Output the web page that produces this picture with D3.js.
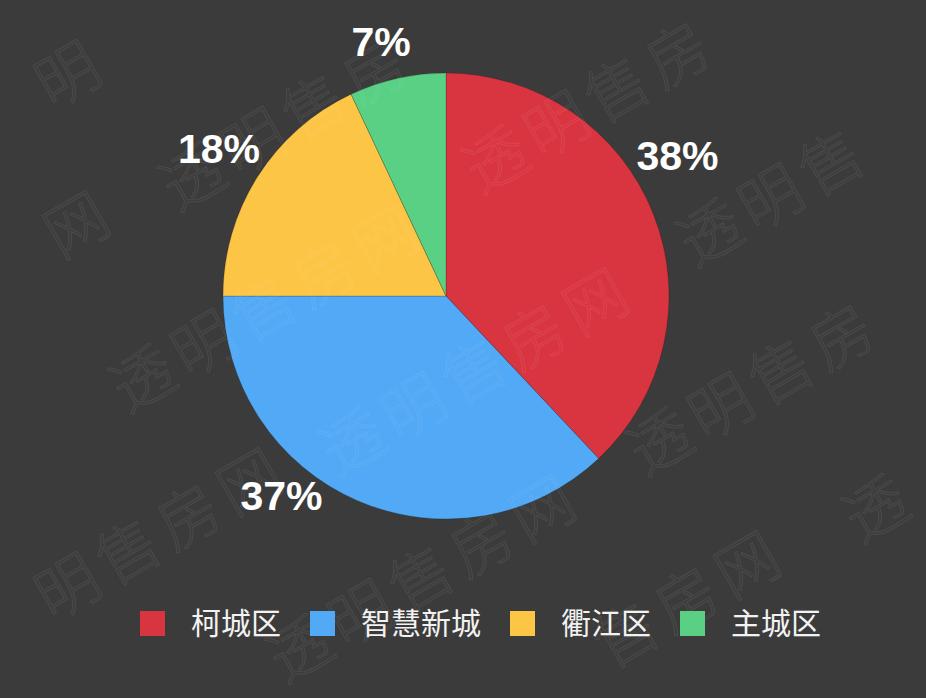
<!DOCTYPE html>
<html>
<head>
<meta charset="utf-8">
<script src="https://cdn.jsdelivr.net/npm/d3@7"></script>
<style>
  html, body { margin: 0; padding: 0; background: #3c3b3b; }
  svg { display: block; }
</style>
</head>
<body>
<svg id="chart" width="926" height="698"></svg>
<script>
// ---- data ----
const categories = ["柯城区", "智慧新城", "衢江区", "主城区"];
const values = [38, 37, 18, 7];
const colors = ["#d93540", "#52a9f5", "#fdc545", "#59d084"];
const watermarkText = "透明售房网";

// ---- layout ----
const W = 926, H = 698;
const cx = 446, cy = 296, R = 223;
// label placement: angle nudge (deg) and radius per slice
const labelAngleNudge = [-9.7, 16.2, 0.7, -1.7];
const labelRadius = [271, 258, 271, 263];

const svg = d3.select("#chart");
svg.append("rect").attr("width", W).attr("height", H).attr("fill", "#3c3b3b");

const data = categories.map((c, i) => ({ name: c, value: values[i], color: colors[i], i }));

const pie = d3.pie().sort(null).value(d => d.value);
const arc = d3.arc().innerRadius(0).outerRadius(R);
const arcs = pie(data);

const g = svg.append("g").attr("transform", `translate(${cx},${cy})`);
g.selectAll("path.slice")
  .data(arcs)
  .join("path")
  .attr("class", "slice")
  .attr("d", arc)
  .attr("fill", d => d.data.color)
  .attr("stroke", "rgba(0,0,0,0.22)")
  .attr("stroke-width", 0.8);

// faint watermark overlay (per character, only glyphs fully inside the canvas)
const wmAnchors = [
  [7,110],[193,177],[496,160],[710,233],
  [-166,365],[143,379],[353,442],[660,442],[876,509],
  [7,622],[300,649],[505,705],[792,690]
];
const wmStep = 70, wmAng = -30 * Math.PI / 180, wmFs = 62, wmHalf = 44;
const wm = svg.append("g").attr("pointer-events", "none");
wmAnchors.forEach(([ax, ay]) => {
  Array.from(watermarkText).forEach((ch, k) => {
    const px = ax + k * wmStep * Math.cos(wmAng);
    const py = ay + k * wmStep * Math.sin(wmAng);
    if (px < wmHalf || px > W - wmHalf || py < wmHalf || py > H - wmHalf) return;
    wm.append("text")
      .attr("transform", `translate(${px},${py}) rotate(-30)`)
      .attr("text-anchor", "middle")
      .attr("dy", "0.36em")
      .attr("font-family", "'Noto Sans CJK SC', sans-serif")
      .attr("font-weight", 300)
      .attr("font-size", wmFs)
      .attr("fill", "rgba(255,255,255,0.02)")
      .attr("stroke", "rgba(255,255,255,0.08)")
      .attr("stroke-width", 0.8)
      .text(ch);
  });
});

// percentage labels
const fmt = d3.format(".0%");
const total = d3.sum(values);
g.selectAll("text.pct")
  .data(arcs)
  .join("text")
  .attr("class", "pct")
  .attr("x", d => {
    const a = (d.startAngle + d.endAngle) / 2 + labelAngleNudge[d.index] * Math.PI / 180;
    return labelRadius[d.index] * Math.sin(a);
  })
  .attr("y", d => {
    const a = (d.startAngle + d.endAngle) / 2 + labelAngleNudge[d.index] * Math.PI / 180;
    return -labelRadius[d.index] * Math.cos(a);
  })
  .attr("dy", "0.36em")
  .attr("text-anchor", "middle")
  .attr("fill", "#ffffff")
  .attr("font-family", "'Liberation Sans', Arial, sans-serif")
  .attr("font-weight", "bold")
  .attr("font-size", 41)
  .text(d => fmt(d.data.value / total));

// legend
const legend = svg.append("g").attr("transform", "translate(140,611)");
const sq = 25, gapA = 26, gapB = 29, fs = 30;
let x = 0;
data.forEach(d => {
  legend.append("rect")
    .attr("x", x).attr("y", 0)
    .attr("width", sq).attr("height", sq)
    .attr("fill", d.color);
  x += sq + gapA;
  const t = legend.append("text")
    .attr("x", x).attr("y", sq / 2)
    .attr("dy", "0.36em")
    .attr("fill", "#f2f2f2")
    .attr("font-family", "'Noto Sans CJK SC', sans-serif")
    .attr("font-size", fs)
    .text(d.name);
  x += t.node().getComputedTextLength() + gapB;
});
</script>
</body>
</html>
